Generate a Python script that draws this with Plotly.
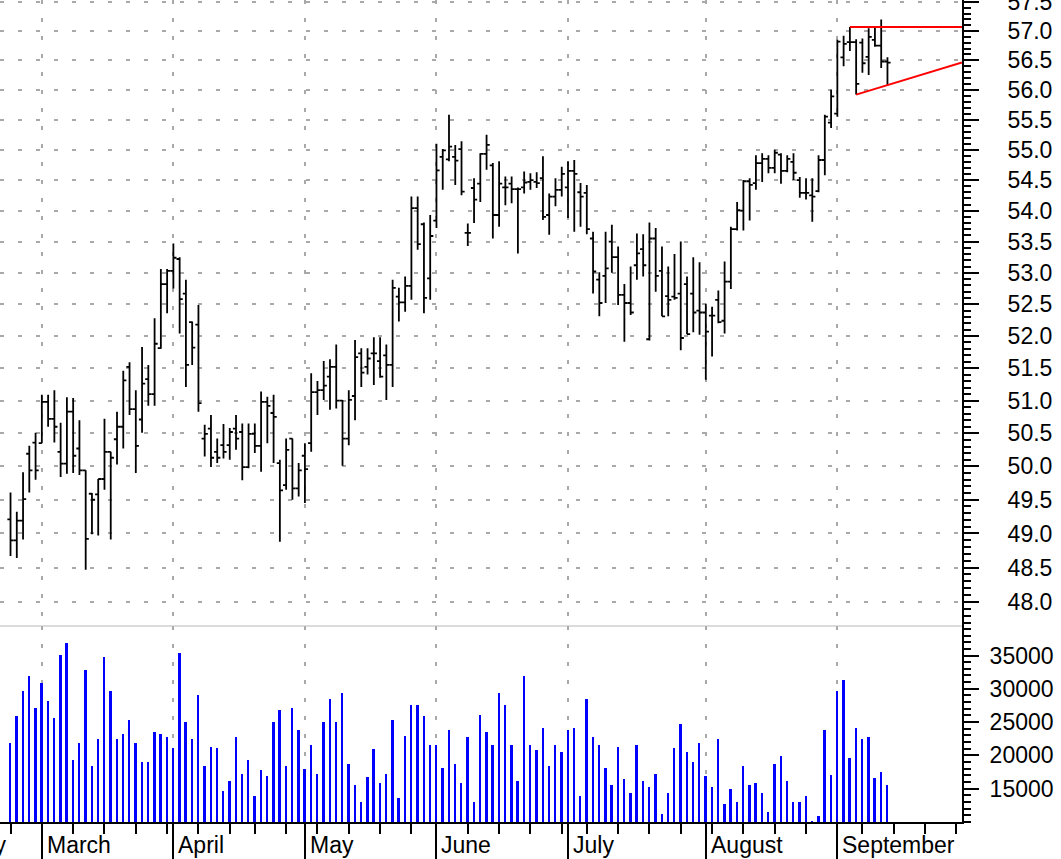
import numpy as np
import pandas as pd
import plotly.graph_objects as go

# ---- trading calendar (2014, exchange holidays removed) ----
holidays = ["2014-04-18", "2014-05-26", "2014-07-04", "2014-09-01"]
calendar = [d for d in pd.bdate_range("2014-02-03", "2014-09-30")
            if d.strftime("%Y-%m-%d") not in holidays]
first_bar = "2014-02-24"

# ---- daily OHLC ----
opens = [49.21, 48.90, 49.19, 50.19, 50.36, 50.35, 50.98, 50.72, 50.22, 50.04,
         50.83, 50.27, 49.94, 49.59, 49.58, 49.81, 50.22, 50.41, 50.60, 51.52,
         50.87, 50.71, 51.33, 51.10, 51.81, 52.82, 53.03, 53.22, 52.67, 52.22,
         52.18, 50.42, 50.57, 50.22, 50.32, 50.32, 50.57, 50.52, 49.99, 50.49,
         50.31, 50.98, 50.81, 50.05, 49.72, 50.42, 49.67, 50.16, 50.35, 51.13,
         51.16, 51.37, 51.52, 51.00, 50.42, 51.07, 51.73, 51.52, 51.73, 51.61,
         51.70, 51.55, 52.62, 52.53, 52.79, 54.04, 53.78, 52.91, 53.84, 54.88,
         54.84, 54.88, 55.01, 53.64, 54.37, 54.44, 54.93, 54.74, 53.93, 54.38,
         54.44, 54.35, 54.38, 54.47, 54.47, 54.53, 53.93, 54.23, 54.34, 54.38,
         54.65, 54.30, 54.29, 53.55, 52.89, 52.95, 53.50, 53.25, 52.65, 52.52,
         53.12, 53.38, 51.95, 53.55, 53.03, 52.63, 52.62, 52.67, 52.82, 52.67,
         52.40, 52.37, 52.32, 52.57, 52.24, 52.86, 53.70, 54.00, 54.48, 54.45,
         54.78, 54.85, 54.70, 54.92, 54.65, 54.80, 54.50, 54.29, 54.25, 54.32,
         54.83, 55.45, 55.60, 56.55, 56.81, 56.81, 56.80, 56.56, 56.85, 56.75,
         56.48]
highs = [49.61, 49.32, 49.91, 50.31, 50.51, 51.09, 51.09, 51.16, 50.66, 51.05,
         51.04, 50.70, 49.94, 49.60, 49.81, 50.72, 50.22, 50.83, 51.46, 51.59,
         51.16, 51.83, 51.55, 52.28, 53.06, 53.06, 53.47, 53.25, 52.89, 52.23,
         52.49, 50.63, 50.78, 50.42, 50.64, 50.58, 50.78, 50.65, 50.65, 50.65,
         51.14, 51.06, 51.09, 50.10, 50.42, 50.42, 50.05, 50.35, 51.42, 51.30,
         51.61, 51.64, 51.87, 51.01, 51.16, 51.94, 51.81, 51.81, 51.98, 51.98,
         51.87, 52.89, 52.76, 52.94, 54.23, 54.23, 53.81, 53.93, 55.10, 55.01,
         55.58, 55.08, 55.14, 53.79, 54.53, 54.94, 55.25, 54.78, 54.81, 54.56,
         54.56, 54.38, 54.64, 54.61, 54.63, 54.89, 54.28, 54.53, 54.72, 54.81,
         54.83, 54.45, 54.42, 53.66, 53.01, 53.66, 53.77, 53.42, 52.82, 53.10,
         53.63, 53.62, 53.81, 53.72, 53.42, 53.10, 53.30, 53.50, 52.94, 53.25,
         53.17, 52.51, 52.46, 52.72, 53.18, 53.74, 54.14, 54.50, 54.53, 54.91,
         54.94, 54.91, 55.00, 54.94, 54.91, 54.94, 54.55, 54.53, 54.53, 54.91,
         55.58, 56.00, 56.85, 56.92, 57.07, 56.86, 56.87, 57.05, 57.08, 57.20,
         56.55]
lows = [48.67, 48.64, 48.91, 49.61, 49.80, 50.35, 50.60, 50.36, 49.84, 49.89,
        49.90, 49.87, 48.47, 48.99, 48.97, 49.65, 48.91, 50.03, 50.27, 50.78,
        49.90, 50.51, 50.92, 50.92, 51.80, 52.36, 52.75, 52.04, 51.21, 51.55,
        50.83, 50.15, 49.99, 50.05, 50.12, 50.10, 50.25, 49.79, 49.97, 50.20,
        49.92, 50.35, 50.05, 48.88, 49.65, 49.50, 49.55, 49.45, 50.22, 50.78,
        51.01, 50.86, 50.88, 50.01, 50.32, 50.70, 51.21, 51.40, 51.24, 51.35,
        51.01, 51.21, 52.23, 52.38, 52.57, 53.37, 52.36, 52.57, 53.72, 54.34,
        54.81, 54.42, 54.25, 53.43, 53.80, 54.14, 54.67, 53.55, 53.74, 54.09,
        54.12, 53.31, 54.28, 54.34, 54.37, 53.85, 53.61, 54.07, 54.23, 53.88,
        53.66, 53.74, 53.62, 52.67, 52.31, 52.52, 53.00, 52.49, 51.91, 52.33,
        52.89, 52.94, 51.93, 52.70, 52.31, 52.31, 52.57, 51.78, 52.03, 52.06,
        52.02, 51.32, 51.68, 52.20, 52.04, 52.74, 53.68, 53.68, 53.84, 54.34,
        54.47, 54.61, 54.61, 54.44, 54.63, 54.50, 54.21, 54.18, 53.82, 54.30,
        54.58, 55.36, 55.55, 56.40, 56.66, 55.92, 56.29, 56.25, 56.73, 56.37,
        56.08]
closes = [48.90, 49.19, 49.51, 49.94, 49.94, 50.98, 50.72, 50.60, 50.04, 50.83,
          50.16, 49.94, 48.92, 49.50, 49.81, 50.22, 50.13, 50.60, 51.31, 50.87,
          50.31, 51.26, 51.10, 51.88, 52.82, 53.03, 53.24, 52.58, 51.55, 51.82,
          50.96, 50.49, 50.13, 50.13, 50.22, 50.52, 50.42, 49.99, 50.49, 50.31,
          50.98, 50.92, 50.75, 49.64, 50.25, 49.67, 49.94, 49.96, 51.13, 51.16,
          51.23, 51.52, 51.00, 50.42, 51.01, 51.67, 51.43, 51.65, 51.73, 51.37,
          51.55, 52.76, 52.53, 52.79, 54.04, 53.46, 52.60, 53.59, 54.66, 54.99,
          55.05, 54.82, 54.31, 53.64, 54.18, 54.93, 55.08, 53.93, 54.44, 54.38,
          54.35, 54.35, 54.46, 54.50, 54.45, 53.90, 54.23, 54.34, 54.60, 54.65,
          54.60, 54.23, 53.70, 53.02, 52.52, 53.07, 53.25, 52.65, 52.52, 52.37,
          53.31, 53.12, 53.55, 52.95, 52.31, 52.57, 52.60, 51.97, 52.03, 52.37,
          52.37, 52.07, 52.32, 52.22, 52.86, 53.70, 54.01, 54.48, 54.42, 54.78,
          54.85, 54.70, 54.95, 54.65, 54.85, 54.62, 54.29, 54.29, 54.23, 54.83,
          55.55, 55.89, 56.82, 56.78, 56.81, 56.10, 56.45, 56.90, 56.75, 56.48,
          56.46]
volumes = [21890, 25870, 29600, 31890, 27060, 30800, 28210, 25620, 35070, 36820,
           19250, 21890, 32790, 18410, 22490, 34830, 29600, 22490, 23280, 25320,
           21890, 19000, 19000, 23580, 23280, 22740, 21040, 35370, 25020, 22490,
           29100, 18410, 21290, 21040, 14680, 16120, 22740, 17260, 19250, 13830,
           17810, 16970, 25020, 26770, 18410, 27060, 23880, 17910, 21590, 17260,
           25020, 28460, 25020, 29350, 18710, 15570, 12940, 16720, 20990, 15820,
           17260, 25320, 13530, 22980, 27610, 27610, 25870, 21590, 21590, 18110,
           23880, 18710, 15820, 22740, 12940, 26120, 23580, 21590, 29350, 27610,
           21590, 16120, 31890, 21590, 20750, 24130, 18410, 21590, 20450, 23880,
           24130, 13830, 28460, 22740, 21590, 18160, 15570, 21290, 16420, 14430,
           21590, 16120, 15270, 17270, 11240, 14430, 21050, 24730, 20450, 19000,
           21890, 16970, 15270, 22440, 12690, 14970, 12940, 18410, 15570, 15870,
           14430, 11540, 18700, 19850, 16120, 12940, 12940, 13830, 10150, 10940,
           23880, 17010, 29600, 31300, 19550, 24180, 22440, 22740, 16670, 17570,
           15570]

# ---- axis labels ----
price_ticks = [48.0, 48.5, 49.0, 49.5, 50.0, 50.5, 51.0, 51.5, 52.0, 52.5,
               53.0, 53.5, 54.0, 54.5, 55.0, 55.5, 56.0, 56.5, 57.0, 57.5]
volume_ticks = [15000, 20000, 25000, 30000, 35000]
month_names = {2: "February", 3: "March", 4: "April", 5: "May", 6: "June",
               7: "July", 8: "August", 9: "September"}

# trend-line anchors (bar indices of the triangle pattern)
resist_bar = 134
support_bars = (135, 140)

# ---- positions on a trading-day axis ----
cal_str = [d.strftime("%Y-%m-%d") for d in calendar]
origin = cal_str.index(first_bar)
pos = np.arange(len(calendar)) - origin
n = len(opens)
x = pos[origin:origin + n]
x_min = pos[origin] - 1.68
x_max = pos[-1] - 0.1

month_idx = [0] + [i for i in range(1, len(calendar)) if calendar[i].month != calendar[i - 1].month]
week_idx = [i for i in range(len(calendar))
            if i == 0 or calendar[i].isocalendar()[1] != calendar[i - 1].isocalendar()[1]]
month_pos = [float(pos[i]) for i in month_idx if x_min <= pos[i] <= x_max]
week_pos = [float(pos[i]) for i in week_idx if x_min <= pos[i] <= x_max and pos[i] not in month_pos]

price_minor = [round(47.7 + 0.1 * i, 1) for i in range(99)]
volume_minor = [10000 + 1000 * i for i in range(30)]

split = 196 / 822.0  # volume panel share of the plot height

fig = go.Figure()
fig.add_trace(go.Ohlc(
    x=x, open=opens, high=highs, low=lows, close=closes,
    increasing=dict(line=dict(color="black", width=1.8)),
    decreasing=dict(line=dict(color="black", width=1.8)),
    tickwidth=0.5, xaxis="x", yaxis="y", hoverinfo="skip", showlegend=False))

# resistance (horizontal through high) and rising support (through two lows)
fig.add_trace(go.Scatter(
    x=[x[resist_bar], x_max], y=[highs[resist_bar], highs[resist_bar]],
    mode="lines", line=dict(color="#ff0000", width=2), xaxis="x", yaxis="y",
    hoverinfo="skip", showlegend=False))
a, b = support_bars
ratio = lows[b] / lows[a]
y_end = lows[a] * ratio ** ((x_max - x[a]) / (x[b] - x[a]))
fig.add_trace(go.Scatter(
    x=[x[a], x_max], y=[lows[a], y_end],
    mode="lines", line=dict(color="#ff0000", width=2), xaxis="x", yaxis="y",
    hoverinfo="skip", showlegend=False))

fig.add_trace(go.Bar(
    x=x, y=volumes, width=0.3, marker=dict(color="#0000ff", line=dict(width=0)),
    xaxis="x", yaxis="y2", hoverinfo="skip", showlegend=False))

grid_col = "#a9a9a9"
font_family = "Liberation Sans, Arial, sans-serif"

fig.update_layout(
    width=1061, height=859,
    margin=dict(l=0, r=99, t=0, b=37, autoexpand=False),
    paper_bgcolor="white", plot_bgcolor="white",
    showlegend=False, hovermode=False, bargap=0,
    font=dict(family=font_family, size=23, color="black"),
    xaxis=dict(
        range=[x_min, x_max], anchor="y2", showline=True, linecolor="black", linewidth=2,
        zeroline=False, rangeslider=dict(visible=False), automargin=False,
        tickmode="array", tickvals=month_pos, showticklabels=False,
        ticks="outside", ticklen=37, tickwidth=2, tickcolor="black",
        showgrid=True, gridcolor=grid_col, griddash="4px,14px", gridwidth=1.5,
        minor=dict(tickmode="array", tickvals=week_pos, ticks="outside", ticklen=10,
                   tickwidth=2, tickcolor="black", showgrid=False),
    ),
    yaxis=dict(
        type="log", domain=[split, 1], anchor="x", side="right",
        range=[np.log10(47.6545), np.log10(57.535)], automargin=False,
        showline=True, linecolor="black", linewidth=2, zeroline=False,
        tickmode="array", tickvals=price_ticks, ticktext=[f"{v:.1f}" for v in price_ticks],
        ticks="outside", ticklen=15, tickwidth=2, tickcolor="black",
        ticklabelstandoff=24, ticklabeloverflow="allow",
        tickfont=dict(size=23, color="black", family=font_family),
        showgrid=True, gridcolor=grid_col, griddash="4px,14px", gridwidth=1.5,
        minor=dict(tickmode="array", tickvals=price_minor, ticks="outside", ticklen=7,
                   tickwidth=1.5, tickcolor="black", showgrid=False),
    ),
    yaxis2=dict(
        domain=[0, split], anchor="x", side="right", range=[10000, 39430],
        automargin=False,
        showline=True, linecolor="black", linewidth=2, zeroline=False,
        tickmode="array", tickvals=volume_ticks, ticktext=[str(v) for v in volume_ticks],
        ticks="outside", ticklen=15, tickwidth=2, tickcolor="black",
        ticklabelstandoff=6, tickfont=dict(size=23, color="black", family=font_family),
        showgrid=False,
        minor=dict(tickmode="array", tickvals=volume_minor, ticks="outside", ticklen=7,
                   tickwidth=1.5, tickcolor="black", showgrid=False),
    ),
    shapes=[dict(type="line", xref="paper", yref="paper", x0=0, x1=1, y0=split, y1=split,
                 line=dict(color="#b8b8b8", width=1))],
)

# month labels, left-aligned just right of each month's first trading day
span = x_max - x_min
for k, i in enumerate(month_idx):
    p = float(pos[i])
    if p > x_max:
        continue
    fig.add_annotation(
        text=month_names[calendar[i].month], xref="paper", yref="paper",
        x=(p - x_min) / span, y=0, xanchor="left", yanchor="top",
        xshift=3 if k > 0 else -5, yshift=-8, showarrow=False,
        font=dict(size=23, color="black", family=font_family))

fig.write_html("out.html", config={"displayModeBar": False},
               post_script="document.body.style.margin='0';")
